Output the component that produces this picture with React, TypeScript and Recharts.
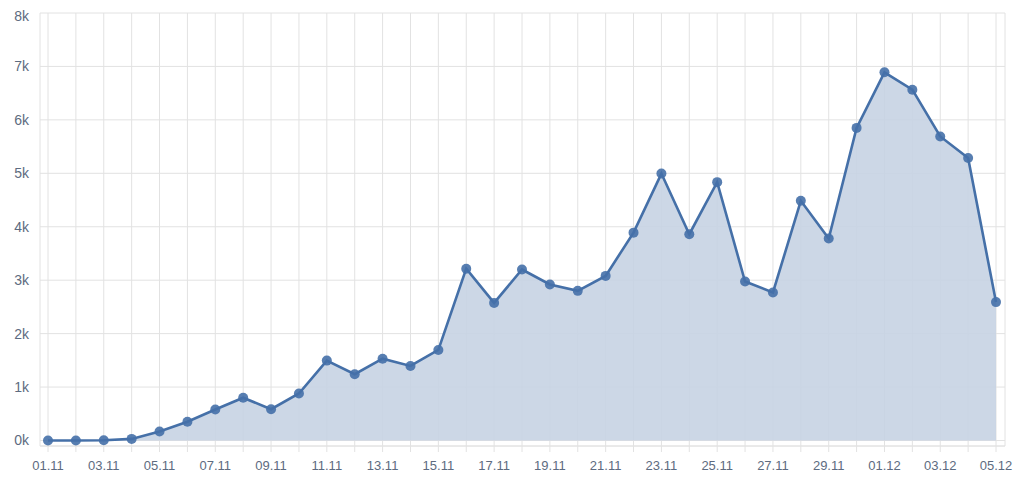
import React from 'react';
import { AreaChart, Area, XAxis, YAxis, CartesianGrid } from 'recharts';

const dates = [
  '01.11','02.11','03.11','04.11','05.11','06.11','07.11','08.11','09.11','10.11',
  '11.11','12.11','13.11','14.11','15.11','16.11','17.11','18.11','19.11','20.11',
  '21.11','22.11','23.11','24.11','25.11','26.11','27.11','28.11','29.11','30.11',
  '01.12','02.12','03.12','04.12','05.12',
];
const values = [
  0, 0, 5, 30, 170, 350, 580, 800, 585, 880,
  1495, 1240, 1530, 1395, 1695, 3215, 2575, 3200, 2920, 2800,
  3080, 3890, 4995, 3860, 4835, 2975, 2770, 4485, 3780, 5850,
  6890, 6565, 5690, 5285, 2590,
];
const yTicks = [0, 1000, 2000, 3000, 4000, 5000, 6000, 7000, 8000];

const data = dates.map((d, i) => ({ date: d, value: values[i] }));

const textColor = '#5d6b80';
const gridColor = '#e2e2e2';
const lineColor = '#4570a8';
const fillColor = '#c6d3e3';

export default function App() {
  return (
    <div style={{ fontFamily: '"Liberation Sans", Arial, sans-serif' }}>
      <AreaChart
        width={1008}
        height={476}
        data={data}
        margin={{ top: 5, right: 11, left: 0, bottom: 8 }}
      >
        <CartesianGrid stroke={gridColor} strokeWidth={1} />
        <XAxis
          dataKey="date"
          interval={0}
          padding={{ left: 8, right: 9 }}
          height={30}
          tickSize={6}
          tickMargin={9}
          axisLine={{ stroke: gridColor }}
          tickLine={{ stroke: gridColor }}
          tick={{ fill: textColor, fontSize: 13 }}
          tickFormatter={(v: string, i: number) => (i % 2 === 0 ? v : '')}
        />
        <YAxis
          width={32}
          domain={[-103, 8000]}
          ticks={yTicks}
          axisLine={false}
          tickLine={false}
          tickSize={0}
          tickMargin={11}
          tick={{ fill: textColor, fontSize: 14 }}
          tickFormatter={(v: number) => `${v / 1000}k`}
        />
        <Area
          type="linear"
          dataKey="value"
          baseValue={0}
          stroke={lineColor}
          strokeWidth={2.6}
          fill={fillColor}
          fillOpacity={0.9}
          dot={{ r: 5, fill: lineColor, stroke: lineColor, strokeWidth: 0 }}
          activeDot={false}
          isAnimationActive={false}
        />
      </AreaChart>
    </div>
  );
}
